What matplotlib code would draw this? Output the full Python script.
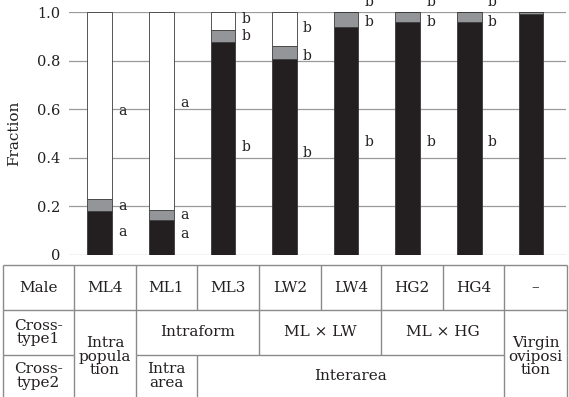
import matplotlib
matplotlib.use("Agg")
import matplotlib.pyplot as plt

plt.rcParams['font.family'] = ['DejaVu Serif']

males = ['ML4', 'ML1', 'ML3', 'LW2', 'LW4', 'HG2', 'HG4', '–']
black_frac = [0.18, 0.145, 0.875, 0.805, 0.94, 0.96, 0.96, 0.99]
gray_frac = [0.05, 0.04, 0.05, 0.055, 0.06, 0.04, 0.04, 0.01]
white_frac = [1 - b - g for b, g in zip(black_frac, gray_frac)]

# significance letters: (bar index, letter, y)
letters = [
    (0, 'a', 0.593), (0, 'a', 0.20), (0, 'a', 0.095),
    (1, 'a', 0.625), (1, 'a', 0.165), (1, 'a', 0.086),
    (2, 'b', 0.97), (2, 'b', 0.90), (2, 'b', 0.445),
    (3, 'b', 0.935), (3, 'b', 0.82), (3, 'b', 0.42),
    (4, 'b', 1.04), (4, 'b', 0.96), (4, 'b', 0.465),
    (5, 'b', 1.04), (5, 'b', 0.96), (5, 'b', 0.465),
    (6, 'b', 1.04), (6, 'b', 0.96), (6, 'b', 0.465),
]

W, H = 569, 397
fig = plt.figure(figsize=(W / 100, H / 100), dpi=100)

# chart area in pixels
ax = fig.add_axes([69 / W, 1 - 255 / H, (566 - 69) / W, (255 - 12) / H])
x = list(range(len(males)))
bw = 0.4
edge = '#3a3a3a'
ax.bar(x, black_frac, bw, color='#231f20', edgecolor=edge, linewidth=0.6, zorder=3)
ax.bar(x, gray_frac, bw, bottom=black_frac, color='#939598', edgecolor=edge,
       linewidth=0.6, zorder=3)
bottoms = [b + g for b, g in zip(black_frac, gray_frac)]
ax.bar(x, white_frac, bw, bottom=bottoms, color='white', edgecolor=edge,
       linewidth=0.6, zorder=3)

for i, lab, y in letters:
    ax.text(i + bw / 2 + 0.1, y, lab, ha='left', va='center', fontsize=10,
            color='#231f20', clip_on=False)

ax.set_xlim(-0.50, 7.57)
ax.set_ylim(0, 1)
ax.set_yticks([0, 0.2, 0.4, 0.6, 0.8, 1.0])
ax.set_yticklabels(['0', '0.2', '0.4', '0.6', '0.8', '1.0'], fontsize=10.5,
                   color='#231f20')
ax.set_xticks([])
ax.tick_params(axis='y', length=0, pad=6.5)
ax.grid(axis='y', color='#9a9a9a', linewidth=0.9, zorder=0)
for s in ax.spines.values():
    s.set_visible(False)
ax.set_ylabel('Fraction', fontsize=11, color='#231f20', labelpad=11)

# table below the chart, drawn in pixel coordinates
tb = fig.add_axes([0, 0, 1, 1], zorder=-1)
tb.set_xlim(0, W)
tb.set_ylim(H, 0)
tb.axis('off')

cols = [3, 74, 136, 197, 259, 321, 381, 443, 504, 567]
r0, r1, r2, r3 = 265, 310, 355, 397
lc = '#8a8a8a'
lw = 1.0

def hline(y, xa, xb):
    tb.plot([xa, xb], [y, y], color=lc, lw=lw, solid_capstyle='butt')

def vline(xv, ya, yb):
    tb.plot([xv, xv], [ya, yb], color=lc, lw=lw, solid_capstyle='butt')

hline(r0, cols[0], cols[-1])
hline(r1, cols[0], cols[-1])
hline(r2, cols[0], cols[1])
hline(r2, cols[2], cols[8])
for c in cols:
    vline(c, r0, r1)
for c in [cols[0], cols[1], cols[2], cols[4], cols[6], cols[8], cols[9]]:
    vline(c, r1, r2)
for c in [cols[0], cols[1], cols[2], cols[3], cols[8], cols[9]]:
    vline(c, r2, r3)

fs = 11
tc = '#231f20'

def cell(xa, xb, ya, yb, s):
    tb.text((xa + xb) / 2, (ya + yb) / 2, s, ha='center', va='center',
            fontsize=fs, color=tc, linespacing=0.95)

cell(cols[0], cols[1], r0, r1, 'Male')
for i, m in enumerate(males):
    cell(cols[i + 1], cols[i + 2], r0, r1, m)
cell(cols[0], cols[1], r1, r2, 'Cross-\ntype1')
cell(cols[0], cols[1], r2, r3, 'Cross-\ntype2')
cell(cols[1], cols[2], r1, r3 + 6, 'Intra\npopula\ntion')
cell(cols[2], cols[4], r1, r2, 'Intraform')
cell(cols[4], cols[6], r1, r2, 'ML × LW')
cell(cols[6], cols[8], r1, r2, 'ML × HG')
cell(cols[8], cols[9], r1, r3 + 6, 'Virgin\noviposi\ntion')
cell(cols[2], cols[3], r2, r3, 'Intra\narea')
cell(cols[3], cols[8], r2, r3, 'Interarea')

fig.savefig('out.png', dpi=100)
